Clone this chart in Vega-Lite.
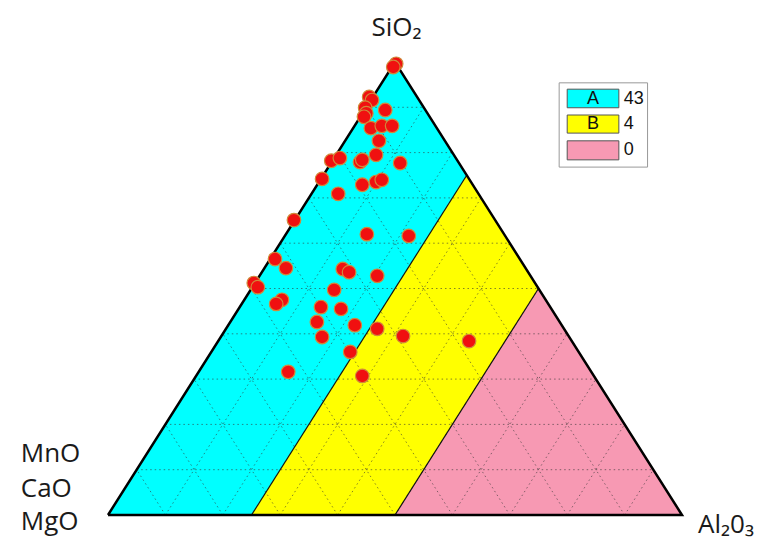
{
  "$schema": "https://vega.github.io/schema/vega-lite/v6.json",
  "width": 759,
  "height": 543,
  "autosize": {"type": "fit", "contains": "padding"},
  "padding": 0,
  "background": "white",
  "config": {"view": {"stroke": null}},
  "datasets": {
    "regions": [
      {"region": "A", "i": 1, "u": 0, "v": 0},
      {"region": "A", "i": 2, "u": 25, "v": 0},
      {"region": "A", "i": 3, "u": 62.5, "v": 75},
      {"region": "A", "i": 4, "u": 50, "v": 100},
      {"region": "B", "i": 1, "u": 25, "v": 0},
      {"region": "B", "i": 2, "u": 50, "v": 0},
      {"region": "B", "i": 3, "u": 75, "v": 50},
      {"region": "B", "i": 4, "u": 62.5, "v": 75},
      {"region": "C", "i": 1, "u": 50, "v": 0},
      {"region": "C", "i": 2, "u": 100, "v": 0},
      {"region": "C", "i": 3, "u": 75, "v": 50}
    ],
    "grid": [
      {"u": 5, "v": 10, "u2": 95, "v2": 10},
      {"u": 10, "v": 20, "u2": 90, "v2": 20},
      {"u": 15, "v": 30, "u2": 85, "v2": 30},
      {"u": 20, "v": 40, "u2": 80, "v2": 40},
      {"u": 25, "v": 50, "u2": 75, "v2": 50},
      {"u": 30, "v": 60, "u2": 70, "v2": 60},
      {"u": 35, "v": 70, "u2": 65, "v2": 70},
      {"u": 40, "v": 80, "u2": 60, "v2": 80},
      {"u": 45, "v": 90, "u2": 55, "v2": 90},
      {"u": 10, "v": 0, "u2": 55, "v2": 90},
      {"u": 20, "v": 0, "u2": 60, "v2": 80},
      {"u": 30, "v": 0, "u2": 65, "v2": 70},
      {"u": 40, "v": 0, "u2": 70, "v2": 60},
      {"u": 50, "v": 0, "u2": 75, "v2": 50},
      {"u": 60, "v": 0, "u2": 80, "v2": 40},
      {"u": 70, "v": 0, "u2": 85, "v2": 30},
      {"u": 80, "v": 0, "u2": 90, "v2": 20},
      {"u": 90, "v": 0, "u2": 95, "v2": 10},
      {"u": 10, "v": 0, "u2": 5, "v2": 10},
      {"u": 20, "v": 0, "u2": 10, "v2": 20},
      {"u": 30, "v": 0, "u2": 15, "v2": 30},
      {"u": 40, "v": 0, "u2": 20, "v2": 40},
      {"u": 50, "v": 0, "u2": 25, "v2": 50},
      {"u": 60, "v": 0, "u2": 30, "v2": 60},
      {"u": 70, "v": 0, "u2": 35, "v2": 70},
      {"u": 80, "v": 0, "u2": 40, "v2": 80},
      {"u": 90, "v": 0, "u2": 45, "v2": 90}
    ],
    "bounds": [
      {"u": 25, "v": 0, "u2": 62.5, "v2": 75},
      {"u": 50, "v": 0, "u2": 75, "v2": 50}
    ],
    "outline": [
      {"i": 1, "u": 0, "v": 0},
      {"i": 2, "u": 100, "v": 0},
      {"i": 3, "u": 50, "v": 100},
      {"i": 4, "u": 0, "v": 0}
    ],
    "points": [
      {"u": 50.2, "v": 99.6}, {"u": 49.7, "v": 98.9},
      {"u": 45.5, "v": 92.3}, {"u": 46.0, "v": 91.6},
      {"u": 48.3, "v": 89.4}, {"u": 44.8, "v": 89.9},
      {"u": 45.0, "v": 88.7}, {"u": 44.6, "v": 87.9},
      {"u": 45.8, "v": 85.4}, {"u": 47.7, "v": 85.9},
      {"u": 49.5, "v": 85.9}, {"u": 47.2, "v": 82.6},
      {"u": 46.7, "v": 79.5}, {"u": 38.9, "v": 78.2},
      {"u": 40.4, "v": 78.8}, {"u": 43.9, "v": 77.9},
      {"u": 44.3, "v": 78.4}, {"u": 50.9, "v": 77.7},
      {"u": 37.3, "v": 74.2}, {"u": 44.3, "v": 72.9},
      {"u": 46.7, "v": 73.5}, {"u": 47.7, "v": 74.0},
      {"u": 40.1, "v": 70.9}, {"u": 32.4, "v": 65.1},
      {"u": 45.1, "v": 62.0}, {"u": 52.4, "v": 61.6},
      {"u": 29.1, "v": 56.5}, {"u": 31.0, "v": 54.5},
      {"u": 40.9, "v": 54.3}, {"u": 42.0, "v": 53.6},
      {"u": 46.9, "v": 52.8}, {"u": 25.4, "v": 51.2},
      {"u": 26.1, "v": 50.3}, {"u": 39.4, "v": 49.7},
      {"u": 30.3, "v": 47.5}, {"u": 29.3, "v": 46.6},
      {"u": 37.1, "v": 45.9}, {"u": 40.6, "v": 45.5},
      {"u": 36.4, "v": 42.6}, {"u": 43.0, "v": 41.9},
      {"u": 37.3, "v": 39.3}, {"u": 46.9, "v": 41.1},
      {"u": 51.4, "v": 39.5}, {"u": 62.9, "v": 38.4},
      {"u": 42.2, "v": 36.0}, {"u": 31.4, "v": 31.6},
      {"u": 44.3, "v": 30.7}
    ],
    "labels": [
      {"u": 45.9, "v": 105.7, "t": "SiO₂"},
      {"u": -15.2, "v": 11.7, "t": "MnO"},
      {"u": -15.2, "v": 4.0, "t": "CaO"},
      {"u": -15.2, "v": -3.3, "t": "MgO"},
      {"u": 102.8, "v": -4.0, "t": "Al₂0₃"}
    ],
    "legendbox": [{"u": 78.6, "v": 95.4, "u2": 94.0, "v2": 76.8}],
    "legend": [
      {"key": "A", "n": "43", "u": 80.0, "u2": 89.0, "v": 94.0, "v2": 89.9, "vc": 91.8},
      {"key": "B", "n": "4", "u": 80.0, "u2": 89.0, "v": 88.3, "v2": 84.3, "vc": 86.3},
      {"key": "C", "n": "0", "u": 80.0, "u2": 89.0, "v": 82.6, "v2": 78.4, "vc": 80.5}
    ],
    "ticks": [
      {"u": -7.1}, {"u": 3.8}, {"u": 16.9}, {"u": 27.7}, {"u": 38.3}, {"u": 49.1},
      {"u": 59.9}, {"u": 71.1}, {"u": 81.9}, {"u": 92.9}, {"u": 103.7}
    ]
  },
  "encoding": {
    "x": {"field": "u", "type": "quantitative", "scale": {"domain": [-18.815, 113.415], "nice": false, "zero": false}, "axis": null},
    "y": {"field": "v", "type": "quantitative", "scale": {"domain": [-6.181, 113.687], "nice": false, "zero": false}, "axis": null}
  },
  "layer": [
    {
      "data": {"name": "regions"},
      "mark": {"type": "line", "strokeWidth": 0, "interpolate": "linear-closed"},
      "encoding": {
        "order": {"field": "i", "type": "quantitative"},
        "detail": {"field": "region", "type": "nominal"},
        "fill": {"field": "region", "type": "nominal", "scale": {"domain": ["A", "B", "C"], "range": ["#00ffff", "#ffff00", "#f799b3"]}, "legend": null}
      }
    },
    {
      "data": {"name": "grid"},
      "mark": {"type": "rule", "color": "#333333", "opacity": 0.6, "strokeWidth": 1, "strokeDash": [1.5, 3]},
      "encoding": {
        "x2": {"field": "u2"},
        "y2": {"field": "v2"}
      }
    },
    {
      "data": {"name": "bounds"},
      "mark": {"type": "rule", "color": "#111111", "strokeWidth": 1.2},
      "encoding": {
        "x2": {"field": "u2"},
        "y2": {"field": "v2"}
      }
    },
    {
      "data": {"name": "outline"},
      "mark": {"type": "line", "color": "#000000", "strokeWidth": 2.5, "strokeJoin": "miter"},
      "encoding": {
        "order": {"field": "i", "type": "quantitative"}
      }
    },
    {
      "data": {"name": "points"},
      "mark": {"type": "point", "shape": "circle", "filled": true, "size": 185, "fill": "#f01010", "stroke": "#d08a3a", "strokeWidth": 1.2, "opacity": 1}
    },
    {
      "data": {"name": "labels"},
      "mark": {"type": "text", "align": "left", "baseline": "alphabetic", "font": "Open Sans", "fontSize": 26, "color": "#1a1a1a"},
      "encoding": {"text": {"field": "t"}}
    },
    {
      "data": {"name": "legendbox"},
      "mark": {"type": "rect", "fill": "white", "stroke": "#999999", "strokeWidth": 1},
      "encoding": {"x2": {"field": "u2"}, "y2": {"field": "v2"}}
    },
    {
      "data": {"name": "legend"},
      "mark": {"type": "rect", "stroke": "#555555", "strokeWidth": 1},
      "encoding": {
        "x2": {"field": "u2"},
        "y2": {"field": "v2"},
        "fill": {"field": "key", "type": "nominal", "scale": {"domain": ["A", "B", "C"], "range": ["#00ffff", "#ffff00", "#f799b3"]}, "legend": null}
      }
    },
    {
      "data": {"name": "legend"},
      "transform": [{"filter": "datum.key !== 'C'"}],
      "mark": {"type": "text", "align": "center", "baseline": "middle", "font": "Liberation Sans", "fontSize": 18, "color": "#111111"},
      "encoding": {
        "x": {"datum": 84.5, "type": "quantitative"},
        "y": {"field": "vc", "type": "quantitative"},
        "text": {"field": "key"}
      }
    },
    {
      "data": {"name": "legend"},
      "mark": {"type": "text", "align": "left", "baseline": "middle", "font": "Liberation Sans", "fontSize": 18, "color": "#111111"},
      "encoding": {
        "x": {"field": "u2", "type": "quantitative"},
        "xOffset": {"value": 5},
        "y": {"field": "vc", "type": "quantitative"},
        "text": {"field": "n"}
      }
    },
    {
      "data": {"name": "ticks"},
      "mark": {"type": "rule", "color": "#e4e4e4", "strokeWidth": 1.5},
      "encoding": {
        "y": {"datum": 112.8, "type": "quantitative"},
        "y2": {"datum": 108.6}
      }
    }
  ]
}
